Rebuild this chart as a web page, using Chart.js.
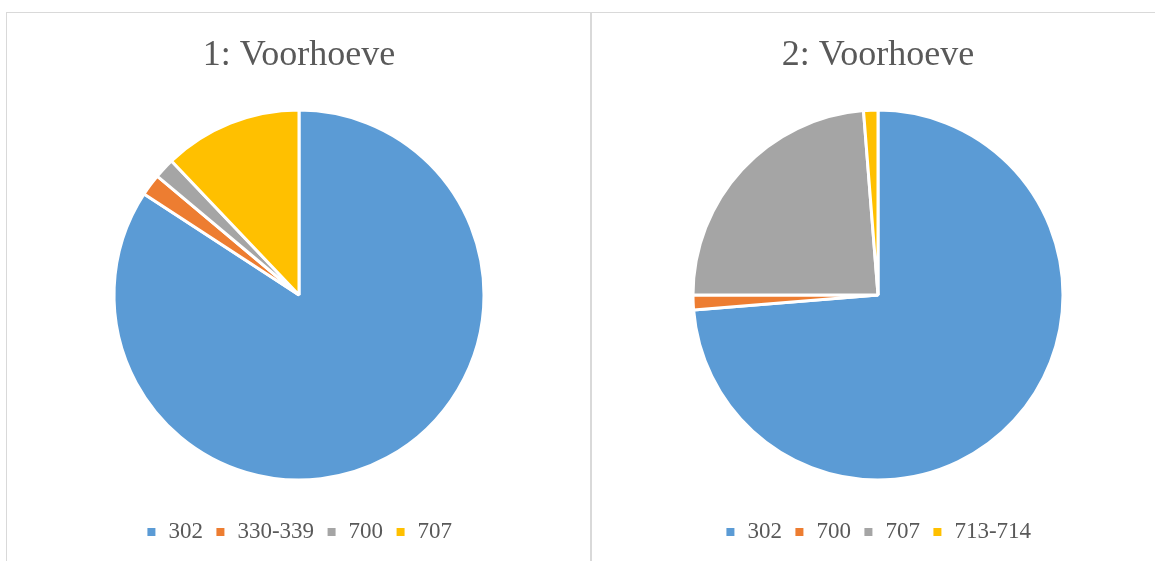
<!DOCTYPE html>
<html>
<head>
<meta charset="utf-8">
<script src="https://cdn.jsdelivr.net/npm/chart.js@4"></script>
<style>
    html, body { margin: 0; padding: 0; background: #fff; overflow: hidden; }
    body { width: 1155px; height: 561px; position: relative; }
    .frame { position: absolute; border: 1px solid #d9d9d9; box-sizing: border-box; }
    .box { position: absolute; }
</style>
</head>
<body>
<div class="frame" style="left:6px; top:12px; width:586px; height:600px;"></div>
<div class="frame" style="left:590px; top:12px; width:600px; height:600px;"></div>
<div class="box" style="left:8px; top:13px; width:582px; height:548px;"><canvas id="chart1"></canvas></div>
<div class="box" style="left:592px; top:13px; width:572px; height:548px;"><canvas id="chart2"></canvas></div>
<script>
// Data
const labels1 = ['302', '330-339', '700', '707'];
const values1 = [84.2, 1.9, 1.8, 12.1];
const labels2 = ['302', '700', '707', '713-714'];
const values2 = [73.7, 1.3, 23.75, 1.25];
const colors = ['#5B9BD5', '#ED7D31', '#A5A5A5', '#FFC000'];

const textColor = '#595959';
const serif = "'Liberation Serif', 'Times New Roman', serif";

// Build one pie chart
function makePie(id, title, labels, values) {
    const ctx = document.getElementById(id).getContext('2d');
    return new Chart(ctx, {
        type: 'pie',
        data: {
            labels: labels,
            datasets: [{
                data: values,
                backgroundColor: colors,
                borderColor: '#ffffff',
                borderWidth: 3,
                radius: 185
            }]
        },
        options: {
            responsive: true,
            maintainAspectRatio: false,
            animation: false,
            layout: {
                padding: { top: 0, bottom: 7.5, left: 0, right: 0 }
            },
            plugins: {
                title: {
                    display: true,
                    text: title,
                    color: textColor,
                    font: { family: serif, size: 36, weight: 'normal' },
                    padding: { top: 21.4, bottom: 3.9 }
                },
                legend: {
                    position: 'bottom',
                    labels: {
                        color: textColor,
                        font: { family: serif, size: 23 },
                        // white slice border eats into the box, so draw it a bit bigger
                        boxWidth: 11,
                        boxHeight: 11,
                        padding: 12
                    }
                },
                tooltip: { enabled: false }
            }
        }
    });
}

makePie('chart1', '1: Voorhoeve', labels1, values1);
makePie('chart2', '2: Voorhoeve', labels2, values2);
</script>
</body>
</html>
